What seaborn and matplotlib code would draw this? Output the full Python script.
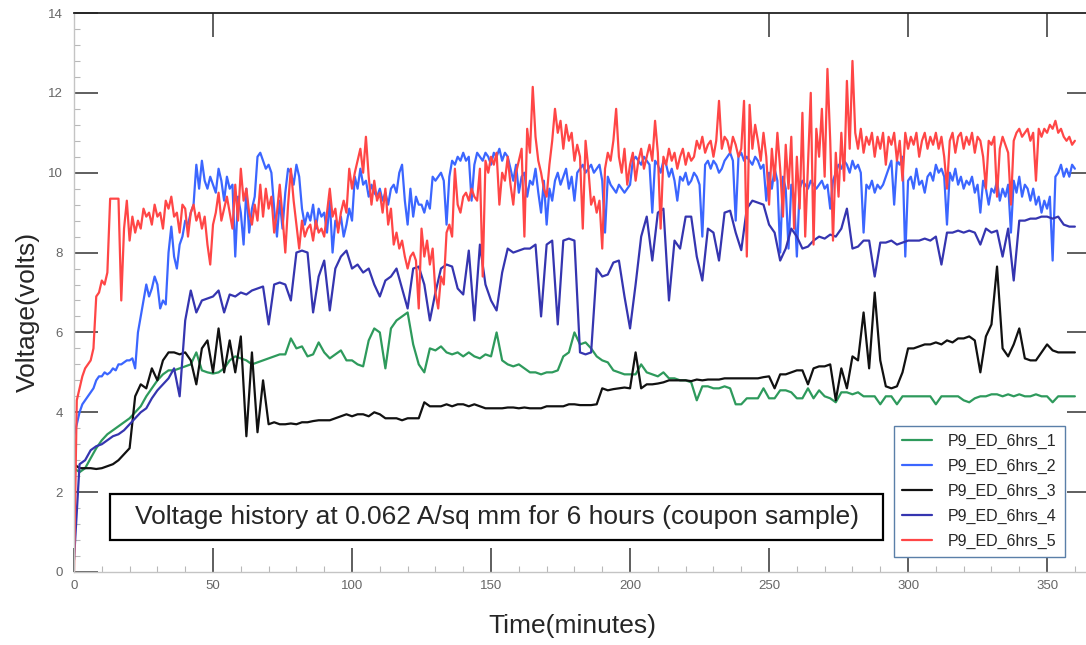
import numpy as np
import pandas as pd
import seaborn as sns
import matplotlib
matplotlib.use("Agg")
import matplotlib.pyplot as plt
from matplotlib.ticker import MultipleLocator, NullLocator
from matplotlib.patches import Rectangle

run_names = ["P9_ED_6hrs_1", "P9_ED_6hrs_2", "P9_ED_6hrs_3", "P9_ED_6hrs_4", "P9_ED_6hrs_5"]
run_colors = ["#2e9a5c", "#3b66ff", "#111111", "#3535b0", "#ff4646"]

# runs 1, 3, 4: one reading every 2 minutes (0..360)
volts_1 = [
    2.6, 2.5, 2.6, 2.85, 3.1, 3.3, 3.45, 3.55, 3.65, 3.75,
    3.85, 4.0, 4.15, 4.4, 4.6, 4.8, 4.95, 5.05, 5.05, 5.1,
    5.15, 5.2, 5.5, 5.05, 5.0, 4.97, 5.0, 5.1, 5.3, 5.4,
    5.35, 5.3, 5.2, 5.25, 5.3, 5.35, 5.4, 5.45, 5.45, 5.85,
    5.6, 5.65, 5.4, 5.45, 5.75, 5.5, 5.35, 5.45, 5.55, 5.3,
    5.3, 5.2, 5.15, 5.8, 6.1, 6.0, 5.1, 6.1, 6.3, 6.4,
    6.5, 5.7, 5.2, 5.0, 5.6, 5.55, 5.65, 5.5, 5.45, 5.5,
    5.4, 5.5, 5.4, 5.35, 5.45, 5.4, 6.0, 5.3, 5.2, 5.15,
    5.2, 5.1, 5.0, 5.0, 4.95, 5.0, 5.0, 5.05, 5.4, 5.5,
    6.0, 5.7, 5.75, 5.6, 5.4, 5.3, 5.25, 5.05, 5.0, 4.95,
    4.95, 4.95, 5.2, 5.0, 4.95, 4.9, 5.0, 4.85, 4.85, 4.8,
    4.8, 4.75, 4.3, 4.65, 4.65, 4.6, 4.6, 4.65, 4.6, 4.2,
    4.2, 4.35, 4.35, 4.35, 4.6, 4.35, 4.35, 4.55, 4.55, 4.5,
    4.35, 4.35, 4.6, 4.35, 4.55, 4.4, 4.35, 4.25, 4.5, 4.5,
    4.45, 4.5, 4.4, 4.4, 4.4, 4.2, 4.4, 4.4, 4.2, 4.4,
    4.4, 4.4, 4.4, 4.4, 4.4, 4.2, 4.4, 4.4, 4.4, 4.4,
    4.3, 4.25, 4.35, 4.4, 4.4, 4.45, 4.45, 4.4, 4.45, 4.4,
    4.45, 4.4, 4.4, 4.45, 4.4, 4.4, 4.25, 4.4, 4.4, 4.4, 4.4,
]

volts_3 = [
    2.7, 2.6, 2.6, 2.6, 2.58, 2.6, 2.65, 2.7, 2.8, 2.95,
    3.1, 4.4, 4.7, 4.6, 5.1, 4.8, 5.3, 5.5, 5.5, 5.45,
    5.5, 5.3, 4.7, 5.6, 5.8, 5.0, 6.1, 5.0, 5.8, 5.0,
    5.9, 3.4, 5.5, 3.5, 4.8, 3.7, 3.75, 3.7, 3.7, 3.72,
    3.7, 3.75, 3.75, 3.78, 3.8, 3.8, 3.8, 3.85, 3.9, 3.95,
    3.9, 3.95, 3.95, 3.9, 4.0, 3.95, 3.85, 3.85, 3.85, 3.8,
    3.85, 3.85, 3.85, 4.25, 4.15, 4.15, 4.15, 4.2, 4.15, 4.2,
    4.2, 4.15, 4.2, 4.15, 4.1, 4.1, 4.1, 4.1, 4.12, 4.12,
    4.1, 4.12, 4.1, 4.1, 4.1, 4.15, 4.15, 4.15, 4.15, 4.2,
    4.2, 4.18, 4.18, 4.18, 4.2, 4.6, 4.55, 4.58, 4.6, 4.62,
    4.6, 5.5, 4.6, 4.7, 4.7, 4.72, 4.75, 4.8, 4.8, 4.8,
    4.8, 4.78, 4.82, 4.8, 4.82, 4.82, 4.82, 4.85, 4.85, 4.85,
    4.85, 4.85, 4.85, 4.85, 4.88, 4.9, 4.6, 4.95, 4.95, 5.0,
    5.05, 5.05, 4.7, 5.1, 5.15, 5.15, 5.2, 4.3, 5.1, 4.6,
    5.4, 5.3, 6.5, 5.1, 7.0, 5.3, 4.65, 4.6, 4.65, 5.0,
    5.6, 5.6, 5.65, 5.7, 5.7, 5.75, 5.7, 5.8, 5.75, 5.85,
    5.85, 5.9, 5.8, 5.0, 5.9, 6.2, 7.65, 5.6, 5.4, 5.7,
    6.1, 5.35, 5.3, 5.3, 5.5, 5.7, 5.55, 5.5, 5.5, 5.5, 5.5,
]

volts_4 = [
    0.3, 2.7, 2.8, 3.05, 3.15, 3.2, 3.3, 3.4, 3.45, 3.55,
    3.7, 3.85, 4.0, 4.1, 4.35, 4.55, 4.7, 4.85, 5.1, 4.4,
    6.3, 7.05, 6.5, 6.8, 6.85, 6.9, 7.05, 6.5, 6.95, 6.9,
    7.0, 6.95, 7.05, 7.1, 7.15, 6.2, 7.2, 7.25, 7.2, 6.8,
    8.0, 8.05, 8.0, 6.5, 7.4, 7.8, 6.55, 7.6, 7.9, 8.05,
    7.6, 7.7, 7.5, 7.6, 7.2, 6.9, 7.3, 7.4, 7.6, 7.1,
    6.6, 7.6, 7.65, 7.2, 6.3, 7.0, 7.6, 7.7, 7.65, 7.1,
    6.95, 8.05, 6.3, 8.2, 7.2, 6.8, 6.55, 7.5, 8.1, 8.0,
    8.05, 8.1, 8.1, 8.2, 6.4, 8.2, 8.3, 6.2, 8.3, 8.35,
    8.3, 5.5, 5.45, 5.5, 7.6, 7.4, 7.45, 7.75, 7.8, 6.9,
    6.1, 7.2, 8.4, 8.9, 7.8, 9.0, 9.1, 6.8, 8.3, 8.1,
    8.9, 8.9, 7.9, 7.3, 8.6, 8.5, 7.8, 9.0, 9.05, 8.5,
    8.06, 9.1, 9.3, 9.25, 9.2, 8.7, 8.5, 7.8, 8.1, 8.6,
    8.4, 8.1, 8.15, 8.3, 8.4, 8.35, 8.45, 8.4, 8.6, 9.1,
    8.1, 8.15, 8.3, 8.3, 7.4, 8.25, 8.25, 8.3, 8.2, 8.25,
    8.3, 8.3, 8.3, 8.35, 8.3, 8.4, 7.7, 8.5, 8.5, 8.55,
    8.5, 8.55, 8.5, 8.2, 8.6, 8.5, 8.55, 7.9, 8.6, 7.3,
    8.8, 8.8, 8.85, 8.85, 8.9, 8.9, 8.85, 8.9, 8.7, 8.65, 8.65,
]

# runs 2 and 5: one reading every minute (0..360)
volts_2 = [
    3.4, 3.7, 4.0, 4.2, 4.3, 4.4, 4.5, 4.6, 4.8, 4.9,
    4.9, 5.0, 4.95, 5.0, 5.1, 5.05, 5.2, 5.2, 5.25, 5.3,
    5.3, 5.35, 5.1, 6.0, 6.4, 6.8, 7.2, 6.9, 7.1, 7.4,
    7.2, 6.6, 6.8, 6.7, 8.0, 8.65, 7.9, 7.6, 8.2, 8.4,
    8.8, 8.7, 9.0, 9.2, 10.2, 9.6, 10.3, 9.8, 9.6, 9.9,
    9.7, 9.5, 10.1, 9.8, 9.3, 9.9, 9.6, 9.7, 7.9, 9.4,
    9.0, 8.2, 9.6, 8.5, 9.1, 9.4, 10.4, 10.5, 10.3, 10.1,
    10.2, 10.0, 9.1, 8.4, 9.3, 8.6, 9.5, 10.1, 10.0, 9.7,
    10.2, 9.9, 9.1, 8.7, 9.0, 8.8, 9.2, 8.6, 9.1, 8.9,
    9.0, 8.5, 9.3, 8.0, 8.8, 8.6, 8.9, 8.4, 8.7, 9.1,
    8.8, 9.9, 9.6, 10.1, 9.7, 9.8, 9.4, 9.7, 9.5, 9.4,
    9.6, 9.3, 9.5, 9.2, 9.6, 9.7, 9.5, 10.0, 10.2, 9.3,
    8.7, 9.6, 8.9, 9.4, 9.2, 9.2, 9.0, 9.3, 9.1, 9.9,
    9.8, 9.9, 10.0, 9.8, 8.7, 9.9, 10.3, 10.2, 10.4, 10.3,
    10.5, 10.3, 10.4, 9.3, 10.2, 10.5, 10.4, 10.3, 10.5, 10.4,
    10.2, 10.5, 10.4, 10.6, 10.3, 10.5, 10.4, 10.1, 9.8, 10.2,
    9.5, 9.9, 10.0, 9.4, 9.8, 9.7, 10.1, 9.5, 9.0, 9.8,
    8.7, 9.6, 9.3, 9.8, 10.0, 9.7, 9.9, 10.1, 9.6, 9.9,
    9.3, 10.0, 10.1, 10.2, 10.0, 10.1, 10.2, 10.0, 10.1, 10.2,
    9.8, 8.5, 9.9, 9.7, 9.6, 9.5, 9.7, 9.6, 9.5, 9.6,
    9.7, 10.3, 10.4, 10.3, 10.2, 10.4, 10.3, 10.2, 9.0, 10.3,
    10.2, 10.0, 10.3, 10.2, 9.9, 10.1, 9.8, 9.3, 9.9, 9.8,
    10.0, 9.7, 9.8, 10.0, 9.9, 9.7, 8.4, 10.2, 10.3, 10.1,
    10.3, 10.2, 10.0, 10.1, 10.3, 10.4, 10.5, 10.3, 8.8, 10.4,
    10.5, 10.3, 10.4, 10.3, 10.2, 10.4, 10.3, 10.1, 10.2, 9.3,
    10.0, 9.6, 10.1, 9.8, 8.0, 9.9, 9.6, 8.1, 9.7, 9.4,
    7.9, 9.6, 9.8, 9.7, 9.6, 9.8, 9.7, 9.6, 9.7, 9.8,
    9.6, 9.7, 9.1, 9.8, 10.0, 10.2, 10.1, 10.3, 10.2, 10.0,
    10.3, 10.1, 10.2, 10.0, 8.5, 9.7, 9.6, 9.8, 9.5, 9.7,
    9.6, 9.7, 9.9, 10.1, 10.3, 9.2, 10.3, 10.2, 10.4, 7.9,
    9.8, 9.9, 9.6, 10.1, 9.7, 9.8, 9.5, 9.9, 10.0, 9.8,
    10.2, 10.0, 10.1, 9.9, 8.7, 10.0, 9.8, 10.1, 9.7, 9.9,
    9.6, 9.8, 9.7, 9.9, 9.5, 9.7, 9.0, 9.8, 9.6, 9.2,
    9.6, 9.5, 9.8, 9.3, 9.6, 9.4, 9.7, 8.5, 9.8, 9.5,
    9.9, 9.4, 9.7, 9.6, 9.3, 9.6, 9.2, 9.4, 9.0, 9.3,
    9.1, 9.4, 7.8, 9.9, 10.0, 10.2, 9.9, 10.1, 9.9, 10.2, 10.1,
]

volts_5 = [
    0.0, 4.3, 4.6, 4.9, 5.1, 5.2, 5.3, 5.6, 6.9, 7.0,
    7.3, 7.2, 7.5, 9.35, 9.35, 9.35, 9.35, 6.8, 8.6, 9.3,
    8.3, 8.9, 8.5, 8.8, 8.6, 9.1, 8.9, 9.0, 8.7, 9.2,
    8.9, 9.0, 8.6, 9.3, 9.1, 9.4, 8.9, 9.0, 8.5, 9.2,
    9.1, 8.4, 9.0, 9.2, 8.8, 9.0, 8.6, 8.9, 8.2, 7.7,
    8.7, 9.0, 9.5, 8.8, 9.1, 9.4, 9.0, 8.6, 9.7, 8.8,
    10.1, 9.3, 9.6, 9.0, 8.7, 9.2, 8.8, 9.7, 8.9, 9.6,
    9.1, 9.4, 8.5, 9.0, 9.7, 8.9, 8.0, 9.2, 10.1, 9.3,
    8.7, 8.1, 8.8, 8.4, 8.6, 8.7, 8.3, 8.8, 8.5, 8.6,
    8.4, 9.0, 9.6, 8.9, 9.1, 8.5, 9.0, 9.3, 9.0, 10.1,
    9.6, 10.0, 10.3, 10.6, 10.0, 10.9, 9.9, 9.2, 9.8, 9.3,
    9.5, 9.0, 9.6, 8.7, 9.1, 8.2, 8.5, 8.1, 8.3, 7.9,
    7.6, 7.9, 8.0, 7.8, 6.6, 8.6, 7.9, 8.3, 7.7, 8.1,
    7.0, 6.6, 7.4, 7.2, 8.5, 8.7, 8.4, 10.1, 9.2, 9.0,
    9.4, 9.5, 9.3, 9.6, 9.4, 9.3, 10.1, 7.4, 10.3, 10.0,
    10.4, 10.2, 10.5, 9.2, 10.0, 9.8, 10.4, 9.7, 9.2, 10.0,
    10.3, 10.6, 8.4, 11.1, 10.5, 12.15, 10.9, 10.3, 10.0, 9.6,
    9.4, 10.2, 10.8, 11.6, 11.0, 11.3, 10.6, 11.2, 10.8, 11.0,
    10.3, 10.7, 10.4, 8.6, 10.8, 10.1, 9.2, 9.4, 9.0, 9.3,
    8.1, 10.1, 10.5, 10.3, 10.8, 11.6, 10.4, 10.0, 10.6, 9.7,
    10.2, 10.5, 9.8, 10.3, 10.6, 10.1, 10.4, 10.7, 10.3, 11.3,
    10.5, 8.6, 10.4, 10.2, 10.6, 10.3, 10.5, 10.1, 10.4, 10.6,
    10.2, 10.5, 10.3, 10.4, 10.8, 10.6, 10.9, 10.5, 10.7, 10.8,
    10.4, 10.8, 11.8, 10.6, 10.9, 10.8, 10.5, 10.9, 10.7, 10.4,
    10.6, 11.8, 7.9, 11.7, 10.6, 11.2, 10.8, 10.3, 11.0, 10.4,
    9.2, 10.6, 9.8, 11.0, 10.1, 8.9, 10.7, 9.6, 10.9, 8.6,
    10.4, 9.1, 11.5, 8.4, 10.2, 12.0, 8.2, 11.1, 10.4, 11.6,
    9.9, 12.6, 10.8, 8.3, 10.5, 9.4, 11.0, 9.8, 12.3, 10.6,
    12.8, 11.0, 10.6, 11.1, 10.5, 10.9, 10.7, 11.0, 10.4, 10.9,
    10.6, 11.0, 10.2, 10.9, 10.7, 11.0, 10.3, 10.8, 9.8, 11.0,
    10.6, 10.9, 10.7, 11.0, 10.4, 10.8, 11.0, 10.6, 10.9, 10.7,
    11.0, 10.6, 10.9, 10.4, 9.6, 10.8, 11.0, 10.5, 10.9, 11.0,
    10.6, 10.9, 10.7, 11.0, 10.5, 10.9, 10.8, 10.4, 9.6, 10.8,
    10.7, 10.9, 9.4, 10.6, 10.9, 10.7, 10.5, 9.2, 10.8, 11.0,
    11.1, 10.9, 11.0, 11.1, 10.8, 11.0, 9.8, 11.1, 10.9, 11.1,
    11.0, 11.2, 11.1, 11.3, 11.0, 11.1, 10.9, 10.8, 10.9, 10.7, 10.8,
]

x_ticks = [0, 50, 100, 150, 200, 250, 300, 350]
y_ticks = [0, 2, 4, 6, 8, 10, 12, 14]
box_text = "Voltage history at 0.062 A/sq mm for 6 hours (coupon sample)"

frames = []
for name, vals in zip(run_names, [volts_1, volts_2, volts_3, volts_4, volts_5]):
    frames.append(pd.DataFrame({"minutes": np.linspace(0, 360, len(vals)),
                                "volts": vals, "run": name}))
df = pd.concat(frames, ignore_index=True)

sns.set_style("white")
plt.rcParams["font.family"] = ["Liberation Sans", "DejaVu Sans"]

fig = plt.figure(figsize=(10.86, 6.45), dpi=100)
ax = fig.add_axes([74 / 1086, 73 / 645, 1012 / 1086, 559 / 645])

sns.lineplot(data=df, x="minutes", y="volts", hue="run", palette=run_colors,
             estimator=None, sort=False, linewidth=1.6, ax=ax)

ax.set_xlim(0, 364)
ax.set_ylim(0, 14)
ax.set_xticks(x_ticks)
ax.set_yticks(y_ticks)
ax.xaxis.set_minor_locator(MultipleLocator(10))
ax.yaxis.set_minor_locator(MultipleLocator(0.4))
ax.tick_params(which="major", direction="in", length=17, width=1.1, color="#333333",
               labelsize=9.5, labelcolor="#666666", top=False, right=False,
               bottom=True, left=True)
ax.tick_params(axis="x", which="major", pad=6)
ax.tick_params(axis="y", which="major", pad=8)
ax.tick_params(which="minor", direction="in", length=4, width=0.8, color="#b8b8b8",
               top=False, right=False, bottom=True, left=True)

for side in ["left", "bottom"]:
    ax.spines[side].set_color("#c4c4c4")
    ax.spines[side].set_linewidth(1.0)
ax.spines["top"].set_color("#222222")
ax.spines["top"].set_linewidth(1.3)
ax.spines["right"].set_visible(False)

top = ax.secondary_xaxis("top")
top.set_xticks([50, 250, 300, 350])
top.xaxis.set_minor_locator(NullLocator())
top.tick_params(direction="in", length=17, width=1.1, color="#333333", labeltop=False,
                top=True)
top.spines["top"].set_visible(False)

right = ax.secondary_yaxis("right")
right.set_yticks([2, 4, 6, 8, 10, 12])
right.yaxis.set_minor_locator(NullLocator())
right.tick_params(direction="in", length=13.5, width=1.1, color="#333333", labelright=False,
                  right=True)
right.spines["right"].set_visible(False)

ax.set_xlabel("Time(minutes)", fontsize=19)
ax.set_ylabel("Voltage(volts)", fontsize=19)
ax.xaxis.set_label_coords(0.492, -0.075)
ax.yaxis.set_label_coords(-0.034, 0.465)

ax.add_patch(Rectangle((0.0356, 0.0572), 0.7638, 0.0823, transform=ax.transAxes,
                       facecolor="white", edgecolor="black", linewidth=1.6, zorder=5))
ax.text(0.4175, 0.098, box_text, transform=ax.transAxes, ha="center", va="center",
        fontsize=19, zorder=6)

sns.move_legend(ax, "lower right", bbox_to_anchor=(0.979, 0.027), title=None,
                frameon=True, fancybox=False, edgecolor="#5a7fa8", framealpha=1,
                fontsize=11.5, handlelength=1.9, handletextpad=1.0,
                labelspacing=0.62, borderaxespad=0, borderpad=0.5)
ax.get_legend().get_frame().set_linewidth(1.0)
ax.get_legend().set_zorder(7)

fig.savefig("out.png", dpi=100)
